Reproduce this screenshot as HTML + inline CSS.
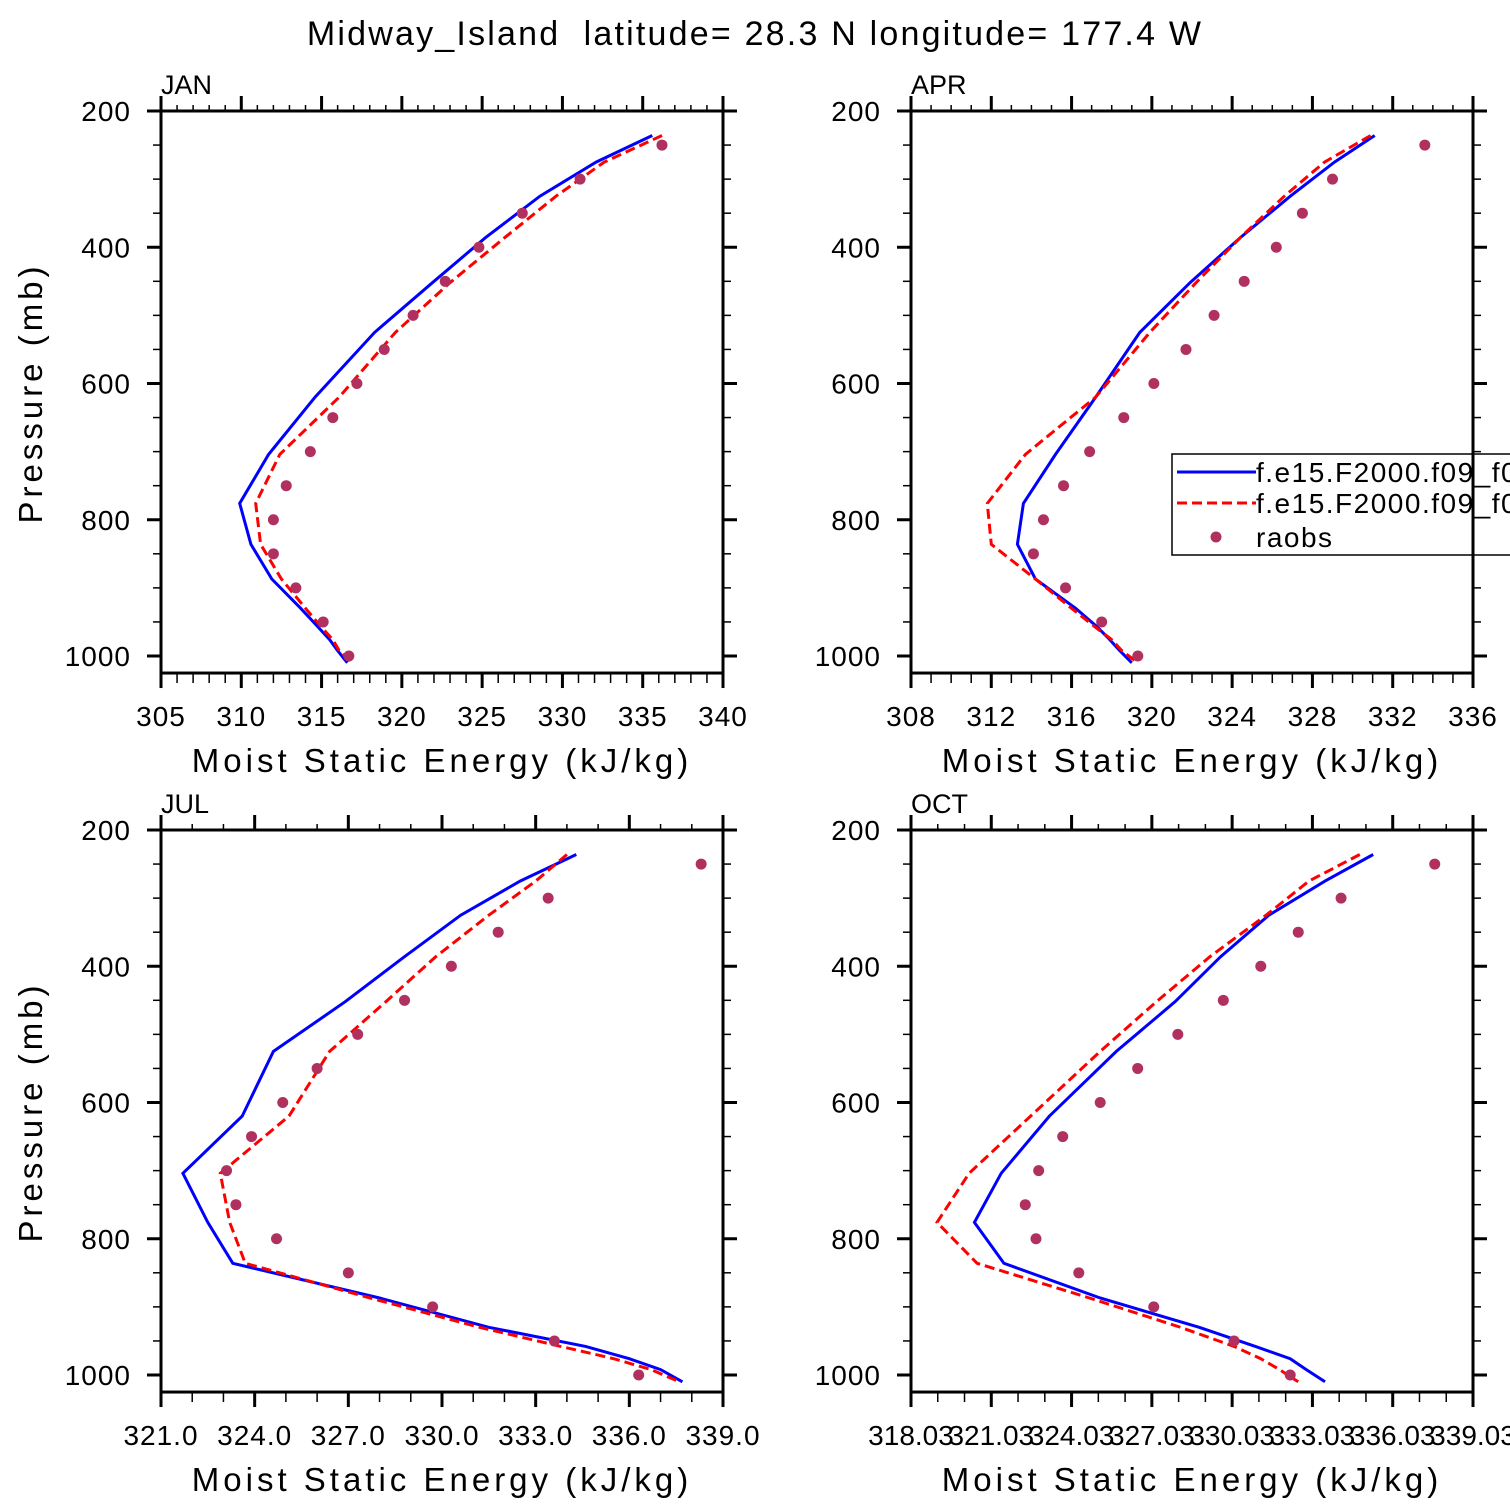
<!DOCTYPE html>
<html><head><meta charset="utf-8"><style>
html,body{margin:0;padding:0;background:#fff;}
svg{display:block;}
text{font-family:"Liberation Sans",sans-serif;fill:#000;}
</style></head><body>
<svg id="chart" width="1510" height="1510" viewBox="0 0 1510 1510" xmlns="http://www.w3.org/2000/svg">
<rect width="1510" height="1510" fill="#fff"/>
<text x="755" y="45" font-size="34" text-anchor="middle" letter-spacing="2.2" xml:space="preserve">Midway_Island  latitude= 28.3 N longitude= 177.4 W</text>
</svg>
<script>
// ---- data ----
const modelLevels = [236, 275, 325, 386, 452, 525, 620, 704, 776, 836, 887, 930, 958, 976, 992, 1010];
const obsLevels = [250, 300, 350, 400, 450, 500, 550, 600, 650, 700, 750, 800, 850, 900, 950, 1000];

const janModelA = [335.6, 332.1, 328.6, 325.2, 321.9, 318.3, 314.6, 311.7, 309.9, 310.6, 311.9, 313.7, 314.8, 315.5, 316.0, 316.6];
const janModelB = [336.2, 332.6, 329.6, 326.4, 323.0, 319.6, 316.1, 312.4, 310.9, 311.2, 312.5, 314.0, 315.0, 315.7, 316.1, 316.9];
const janObs = [336.2, 331.1, 327.5, 324.8, 322.7, 320.7, 318.9, 317.2, 315.7, 314.3, 312.8, 312.0, 312.0, 313.4, 315.1, 316.7];

const aprModelA = [331.1, 329.1, 326.9, 324.4, 321.9, 319.4, 317.2, 315.2, 313.6, 313.3, 314.2, 316.2, 317.3, 317.9, 318.4, 319.0];
const aprModelB = [330.9, 328.6, 326.6, 324.4, 322.2, 319.9, 317.2, 313.7, 311.8, 312.0, 314.2, 316.0, 317.2, 318.0, 318.5, 319.3];
const aprObs = [333.6, 329.0, 327.5, 326.2, 324.6, 323.1, 321.7, 320.1, 318.6, 316.9, 315.6, 314.6, 314.1, 315.7, 317.5, 319.3];

const julModelA = [334.3, 332.5, 330.6, 328.8, 326.9, 324.6, 323.6, 321.7, 322.5, 323.3, 328.0, 331.5, 334.6, 336.0, 337.0, 337.7];
const julModelB = [334.0, 333.0, 331.5, 329.8, 328.2, 326.4, 325.1, 322.9, 323.2, 323.7, 327.7, 331.2, 333.8, 335.5, 336.7, 337.6];
const julObs = [338.3, 333.4, 331.8, 330.3, 328.8, 327.3, 326.0, 324.9, 323.9, 323.1, 323.4, 324.7, 327.0, 329.7, 333.6, 336.3];

const octModelA = [335.3, 333.5, 331.4, 329.6, 327.9, 325.7, 323.2, 321.4, 320.4, 321.5, 325.1, 328.8, 330.9, 332.2, 332.8, 333.5];
const octModelB = [334.8, 332.9, 331.3, 329.2, 327.2, 325.1, 322.5, 320.2, 319.0, 320.5, 324.7, 328.1, 330.1, 331.1, 331.8, 332.5];
const octObs = [337.6, 334.1, 332.5, 331.1, 329.7, 328.0, 326.5, 325.1, 323.7, 322.8, 322.3, 322.7, 324.3, 327.1, 330.1, 332.2];

const yTicks = [200, 400, 600, 800, 1000];
const janXTicks = ["305","310","315","320","325","330","335","340"];
const aprXTicks = ["308","312","316","320","324","328","332","336"];
const julXTicks = ["321.0","324.0","327.0","330.0","333.0","336.0","339.0"];
const octXTicks = ["318.03","321.03","324.03","327.03","330.03","333.03","336.03","339.03"];
const panelNames = ["JAN","APR","JUL","OCT"];
const legendLabels = ["f.e15.F2000.f09_f09.cam5.3.ctrl","f.e15.F2000.f09_f09.cam5.3.exp","raobs"];

const NS = "http://www.w3.org/2000/svg";
const svg = document.getElementById("chart");
function mk(tag, attrs, parent) {
  const e = document.createElementNS(NS, tag);
  for (const k in attrs) e.setAttribute(k, attrs[k]);
  (parent || svg).appendChild(e);
  return e;
}

const panels = [
  {name: panelNames[0], x0: 161, y0: 111, xmin: 305, xmax: 340, major: 5, minor: 1, ticks: janXTicks, a: janModelA, b: janModelB, o: janObs, ylab: true},
  {name: panelNames[1], x0: 911, y0: 111, xmin: 308, xmax: 336, major: 4, minor: 1, ticks: aprXTicks, a: aprModelA, b: aprModelB, o: aprObs, ylab: false, legend: true},
  {name: panelNames[2], x0: 161, y0: 830, xmin: 321, xmax: 339, major: 3, minor: 1, ticks: julXTicks, a: julModelA, b: julModelB, o: julObs, ylab: true},
  {name: panelNames[3], x0: 911, y0: 830, xmin: 318.03, xmax: 339.03, major: 3, minor: 1, ticks: octXTicks, a: octModelA, b: octModelB, o: octObs, ylab: false}
];
const W = 562, PX = 545 / 800;

panels.forEach(function (p) {
  const g = mk("g", {});
  
  
  const sx = v => p.x0 + (v - p.xmin) / (p.xmax - p.xmin) * W;
  const sy = v => p.y0 + (v - 200) * PX;
  const bot = sy(1025);

  const clipId = "clip" + p.name;
  const cp = mk("clipPath", {id: clipId}, g);
  mk("rect", {x: p.x0, y: p.y0, width: W, height: bot - p.y0}, cp);

  const series = mk("g", {"clip-path": "url(#" + clipId + ")"}, g);
  const pa = p.a.map((v, i) => sx(v).toFixed(1) + "," + sy(modelLevels[i]).toFixed(1)).join(" ");
  const pb = p.b.map((v, i) => sx(v).toFixed(1) + "," + sy(modelLevels[i]).toFixed(1)).join(" ");
  const la = mk("polyline", {points: pa, fill: "none", stroke: "#0000ff", "stroke-width": 3}, series);
  
  
  const lb = mk("polyline", {points: pb, fill: "none", stroke: "#ff0000", "stroke-width": 3, "stroke-dasharray": "10,5"}, series);
  
  
  p.o.forEach(function (v, i) {
    const c = mk("circle", {cx: sx(v), cy: sy(obsLevels[i]), r: 5.5, fill: "#b03060"}, series);
    
    
  });

  if (p.legend) {
    const lg = mk("g", {});
    
    
    mk("rect", {x: 1172, y: 454, width: 400, height: 101, fill: "#fff", stroke: "#000", "stroke-width": 1.5}, lg);
    mk("line", {x1: 1177, y1: 472, x2: 1256, y2: 472, stroke: "#0000ff", "stroke-width": 3}, lg);
    mk("line", {x1: 1177, y1: 503, x2: 1256, y2: 503, stroke: "#ff0000", "stroke-width": 3, "stroke-dasharray": "10,5"}, lg);
    mk("circle", {cx: 1216, cy: 537, r: 5.5, fill: "#b03060"}, lg);
    [482, 513, 547].forEach(function (yy, i) {
      const t = mk("text", {x: 1256, y: yy, "font-size": 28, "letter-spacing": 1.5}, lg);
      t.textContent = legendLabels[i];
      
      
    });
  }

  const fr = mk("rect", {x: p.x0, y: p.y0, width: W, height: bot - p.y0, fill: "none", stroke: "#000", "stroke-width": 3}, g);
  
  

  for (let v = 200; v <= 1025; v += 50) {
    const y = sy(v), major = v % 200 === 0, L = major ? 14 : 8;
    mk("line", {x1: p.x0 - L, y1: y, x2: p.x0, y2: y, stroke: "#000", "stroke-width": major ? 3 : 1.5}, g);
    mk("line", {x1: p.x0 + W, y1: y, x2: p.x0 + W + L, y2: y, stroke: "#000", "stroke-width": major ? 3 : 1.5}, g);
  }
  yTicks.forEach(function (v) {
    const t = mk("text", {x: p.x0 - 30, y: sy(v) + 10, "font-size": 28, "text-anchor": "end", "letter-spacing": 1}, g);
    t.textContent = v;
    
    
  });
  const n = Math.round((p.xmax - p.xmin) / p.minor);
  for (let k = 0; k <= n; k++) {
    const v = p.xmin + k * p.minor, x = sx(v);
    const major = k % Math.round(p.major / p.minor) === 0;
    const L = major ? 15 : 8;
    mk("line", {x1: x, y1: bot, x2: x, y2: bot + L + (major ? 0 : 2), stroke: "#000", "stroke-width": major ? 3 : 1.5}, g);
    mk("line", {x1: x, y1: p.y0 - L + (major ? 0 : 2), x2: x, y2: p.y0, stroke: "#000", "stroke-width": major ? 3 : 1.5}, g);
  }
  p.ticks.forEach(function (lab, i) {
    const t = mk("text", {x: sx(p.xmin + i * p.major), y: bot + 53, "font-size": 28, "text-anchor": "middle", "letter-spacing": p.name === "OCT" ? 0 : 1}, g);
    t.textContent = lab;
    
    
  });
  const xt = mk("text", {x: p.x0 + W / 2, y: bot + 99, "font-size": 33, "text-anchor": "middle", "letter-spacing": 4}, g);
  xt.textContent = "Moist Static Energy (kJ/kg)";
  
  
  const pt = mk("text", {x: p.x0, y: p.y0 - 17, "font-size": 27}, g);
  pt.textContent = p.name;
  
  
  if (p.ylab) {
    const cy = p.y0 + 282;
    const yt = mk("text", {x: 42, y: cy, "font-size": 33, "text-anchor": "middle", "letter-spacing": 4, transform: "rotate(-90 42 " + cy + ")"}, g);
    yt.textContent = "Pressure (mb)";
    
    
  }
});
(function () {
  const l = mk("line", {x1: 1473, y1: 111, x2: 1473, y2: 673, stroke: "#000", "stroke-width": 3});
  
  
})();
</script>
</body></html>
